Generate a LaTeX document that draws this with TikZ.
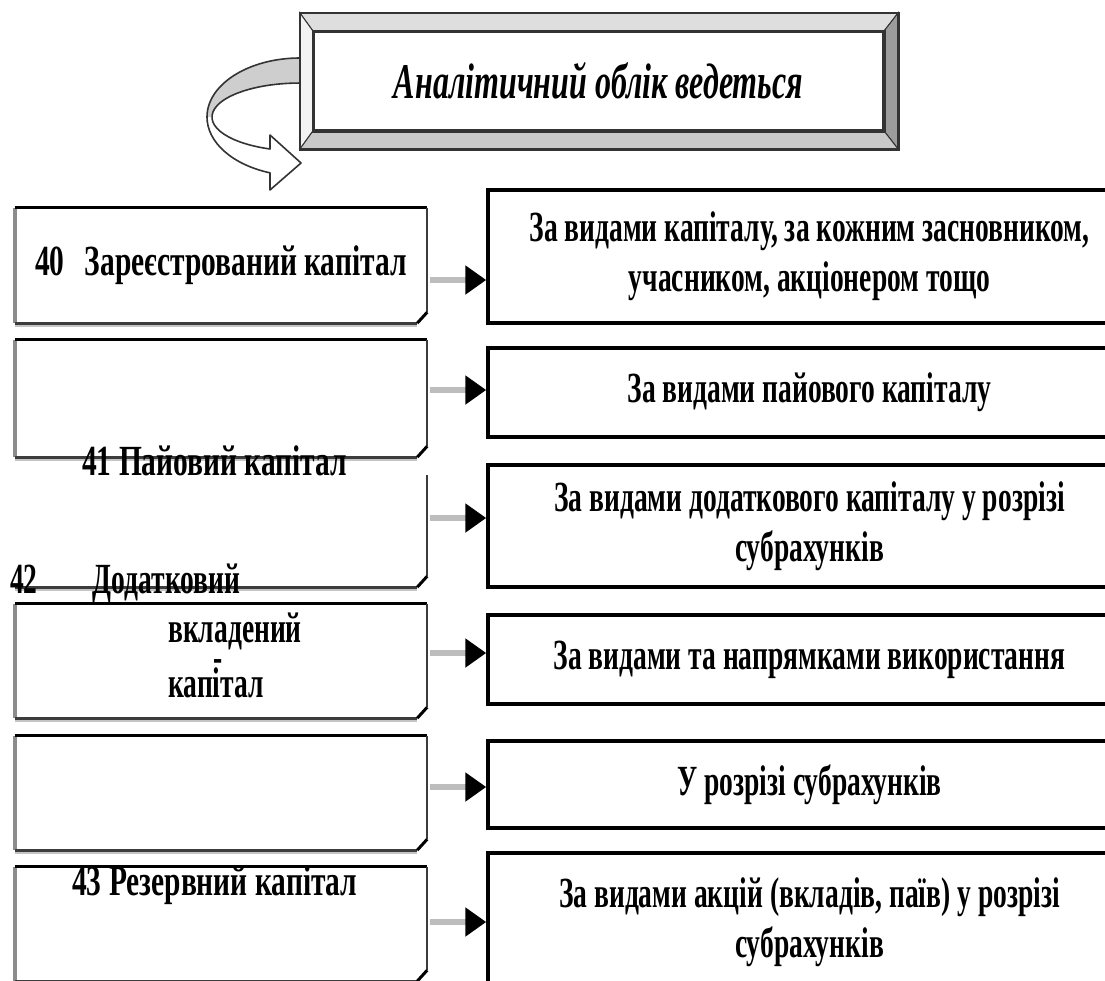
\documentclass[tikz,border=0pt]{standalone}
\usepackage{fontspec}
\setmainfont{Liberation Serif}
\newfontfamily\narrowserif[FakeStretch=0.64]{Liberation Serif}
\newfontfamily\labelserif[FakeStretch=0.685]{Liberation Serif}
\usetikzlibrary{calc,arrows.meta}
\definecolor{frame-dark}{RGB}{51,51,51}
\definecolor{bevel-top}{RGB}{222,222,222}
\definecolor{bevel-left}{RGB}{243,243,243}
\definecolor{bevel-right}{RGB}{156,156,156}
\definecolor{bevel-bottom}{RGB}{201,201,201}
\definecolor{ribbon-gray}{RGB}{206,206,206}
\definecolor{shaft-gray}{RGB}{189,189,189}
\definecolor{edge-gray}{RGB}{140,140,140}
\definecolor{edge-dark}{RGB}{60,60,60}
\definecolor{shade-gray}{RGB}{196,196,196}

\begin{document}
\begin{tikzpicture}[x=1pt, y=1pt,
  txt/.style={font=\narrowserif\bfseries\fontsize{43}{50}\selectfont, inner sep=0pt},
  acctxt/.style={txt, font=\labelserif\bfseries\fontsize{43}{50}\selectfont},
  titlebox/.style={font=\narrowserif\bfseries\itshape\fontsize{50}{56}\selectfont,
    draw=frame-dark, line width=2.5pt, fill=white, inner sep=0pt,
    minimum width=569pt, minimum height=98pt},
  lbox/.style={acctxt, minimum width=412pt},
  rbox/.style={txt, draw, line width=3.5pt, minimum width=643pt, align=center},
  link/.style={draw=shaft-gray, line width=6pt, shorten <=3pt,
    -{Triangle[length=21pt,width=28pt,color=black,fill=black]}}]

\fill[white] (0,0) rectangle (1105,-980);
\useasboundingbox (0,0) rectangle (1105,-980);
\clip (0,0) rectangle (1105,-980);

% turning ribbon arrow
\fill[white] (300,-58) arc[start angle=90,end angle=251.2,x radius=93,y radius=59]
  -- (270,-190) -- (301,-163) -- (270,-135) -- (270,-149)
  arc[start angle=250.07,end angle=90,x radius=88,y radius=34] -- cycle;
\fill[ribbon-gray] (300,-58) arc[start angle=90,end angle=180,x radius=93,y radius=59]
  -- (212,-117) arc[start angle=180,end angle=90,x radius=88,y radius=34] -- cycle;
\draw[black!80, line width=1.6pt, line join=round]
  (300,-58) arc[start angle=90,end angle=251.2,x radius=93,y radius=59]
  -- (270,-190) -- (301,-163) -- (270,-135) -- (270,-149)
  arc[start angle=250.07,end angle=90,x radius=88,y radius=34];

% heading with bevelled frame
\node[titlebox] (title) at (598.5,-81) {Аналітичний облік ведеться};
\coordinate (fnw) at ([shift={(-13pt,18pt)}]title.north west);
\coordinate (fne) at ([shift={(14pt,18pt)}]title.north east);
\coordinate (fsw) at ([shift={(-13pt,-18pt)}]title.south west);
\coordinate (fse) at ([shift={(14pt,-18pt)}]title.south east);
\filldraw[fill=bevel-top, draw=frame-dark, line width=1pt]
  (fnw) -- (fne) -- (title.north east) -- (title.north west) -- cycle;
\filldraw[fill=bevel-left, draw=frame-dark, line width=1pt]
  (fnw) -- (title.north west) -- (title.south west) -- (fsw) -- cycle;
\filldraw[fill=bevel-right, draw=frame-dark, line width=1pt]
  (fne) -- (fse) -- (title.south east) -- (title.north east) -- cycle;
\filldraw[fill=bevel-bottom, draw=frame-dark, line width=1pt]
  (fsw) -- (title.south west) -- (title.south east) -- (fse) -- cycle;
\draw[frame-dark, line width=2.5pt] (fnw) rectangle (fse);
\draw[frame-dark, line width=2.5pt] (title.north west) rectangle (title.south east);

% accounts (left column)
\node[lbox, minimum height=115pt] (l1) at (221,-265.5) {40\hspace{20pt}Зареєстрований капітал};
\node[lbox, minimum height=117pt] (l2) at (221,-398.5) {};
\node[lbox, minimum height=112pt] (l3) at (221,-531) {};
\node[lbox, minimum height=114pt] (l4) at (221,-661) {};
\node[lbox, minimum height=114pt] (l5) at (221,-793) {};
\node[lbox, minimum height=114pt] (l6) at (221,-924) {};

\foreach \n in {l1,l2,l4,l5,l6}{
  \draw[edge-gray, line width=4pt] (\n.north west) -- (\n.south west);
  \draw[black, line width=3pt] (\n.north west) -- (\n.north east);
}
\foreach \n in {l1,l2,l3,l4,l5,l6}{
  \draw[shade-gray, line width=2.5pt] ([yshift=-3pt]\n.south west) -- ([shift={(-10pt,-3pt)}]\n.south east);
  \draw[edge-dark, line width=3pt] (\n.south west) -- ([xshift=-10pt]\n.south east);
  \draw[edge-dark, line width=2pt] (\n.north east) -- ([yshift=11pt]\n.south east);
  \draw[black, line width=3pt] ([yshift=11pt]\n.south east) -- ([xshift=-10pt]\n.south east);
}

\node[acctxt, anchor=base west] (t41) at (82,-475) {41 Пайовий капітал};
\node[txt, anchor=base west] (t42) at (10,-593) {42\hspace{55pt}Додатковий};
\node[txt, anchor=base west, align=left] (t42b) at (168,-697)
  {вкладений\\[5pt]\rlap{\hspace{45pt}\raisebox{25.5pt}{-}}капітал};
\node[acctxt, anchor=base west] (t43) at (72,-895) {43 Резервний капітал};

% ways of keeping the records (right column)
\node[rbox, minimum height=133pt] (r1) at (809.5,-256.5)
  {За видами капіталу, за кожним засновником,\\ учасником, акціонером тощо};
\node[rbox, minimum height=89pt] (r2) at (809.5,-392.5) {За видами пайового капіталу};
\node[rbox, minimum height=122pt] (r3) at (809.5,-526)
  {За видами додаткового капіталу у розрізі\\ субрахунків};
\node[rbox, minimum height=89pt] (r4) at (809.5,-659.5) {За видами та напрямками використання};
\node[rbox, minimum height=87pt] (r5) at (809.5,-784.5) {У розрізі субрахунків};
\node[rbox, minimum height=138pt] (r6) at (809.5,-922)
  {За видами акцій (вкладів, паїв) у розрізі\\ субрахунків};

\foreach \i/\dy in {1/-14.5,2/8.5,3/13,4/8,5/6,6/2}
  \draw[link] ($(l\i.east)+(0,\dy)$) -- ($(l\i.east -| r\i.west)+(0,\dy)$);

\end{tikzpicture}
\end{document}
